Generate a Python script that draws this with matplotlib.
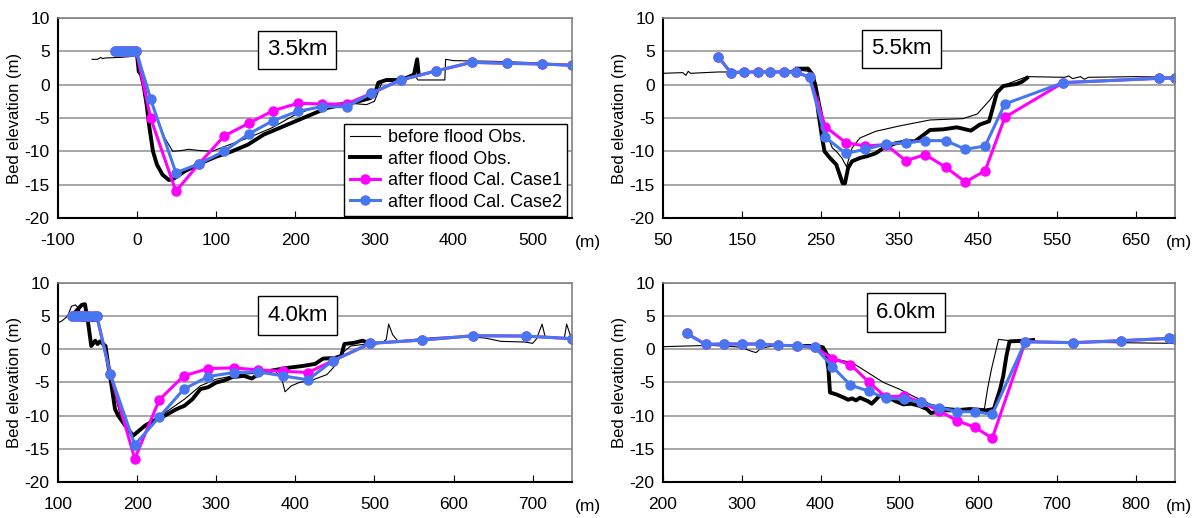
import matplotlib
matplotlib.use("Agg")
import matplotlib.pyplot as plt

plt.rcParams['font.family'] = ['Liberation Sans', 'DejaVu Sans']
plt.rcParams['axes.unicode_minus'] = False

# ---- 3.5km ----
x35_before = [-57, -50, -46, -44, -40, -20, 0, 2, 5, 10, 15, 25, 35, 45, 55, 65, 80, 95, 110, 140,
              170, 200, 230, 260, 290, 300, 305, 310, 330, 340, 352, 355, 389, 390, 400, 450, 500, 550]
y35_before = [3.8, 3.8, 4.1, 3.9, 4.0, 4.1, 4.3, 3.0, 2.0, 1.0, -1.0, -5.0, -8.0, -10.0, -9.9, -9.7, -9.9, -10.0, -9.3, -8.0,
              -6.5, -4.5, -3.2, -2.7, -3.0, -2.5, -1.0, 0.5, 0.6, 0.8, 1.2, 0.7, 0.7, 3.8, 3.6, 3.5, 3.3, 3.0]
x35_after = [0, 2, 5, 8, 12, 15, 20, 25, 32, 40, 45, 60, 80, 100, 120, 140, 160, 180, 200, 220, 240,
             260, 280, 295, 300, 305, 315, 330, 340, 350, 354, 356]
y35_after = [4.3, 2.0, 1.5, 0.0, -3.0, -6.0, -10.0, -12.0, -13.5, -14.3, -14.2, -13.0, -11.8, -10.8, -10.0, -9.0, -7.5, -6.5, -5.5, -4.5, -3.5,
             -3.0, -2.5, -2.0, -1.5, 0.3, 0.7, 0.7, 1.0, 1.5, 3.8, 1.5]
x35_cal = [-28, -25, -22, -19, -16, -13, -10, -7, -4, -1, 17, 49, 78, 110, 141, 172, 203, 234, 265,
           296, 333, 378, 423, 467, 512, 550]
y35_case1 = [5, 5, 5, 5, 5, 5, 5, 5, 5, 5, -5.0, -16.0, -11.9, -7.7, -5.8, -3.9, -2.8, -2.9, -2.9,
             -1.3, 0.7, 2.05, 3.35, 3.2, 3.1, 2.9]
y35_case2 = [5, 5, 5, 5, 5, 5, 5, 5, 5, 5, -2.2, -13.2, -11.9, -10.0, -7.4, -5.4, -4.0, -3.3, -3.3,
             -1.3, 0.7, 2.05, 3.35, 3.2, 3.1, 2.9]

# ---- 5.5km ----
x55_before = [50, 75, 79, 82, 85, 120, 160, 200, 220, 235, 240, 245, 250, 255, 260, 265, 270, 277, 283,
              290, 300, 320, 350, 389, 431, 449, 465, 474, 487, 512, 560, 565, 570, 580, 585, 590, 650, 700]
y55_before = [1.7, 1.8, 1.4, 2.0, 1.7, 1.9, 1.9, 2.0, 2.2, 2.0, 1.5, 0.0, -3.0, -6.0, -8.0, -9.5, -10.0, -11.0, -12.3,
              -9.5, -8.0, -7.0, -6.2, -5.3, -5.1, -4.4, -2.3, -0.8, 0.1, 1.2, 1.1, 1.3, 0.9, 1.2, 0.8, 1.1, 1.2, 1.1]
x55_after = [220, 234, 240, 243, 247, 252, 255, 262, 270, 278, 281, 285, 290, 300, 310, 320, 330, 345, 360,
             370, 389, 406, 423, 441, 452, 464, 474, 482, 499, 506, 512]
y55_after = [2.4, 2.4, 1.5, 0.0, -4.0, -8.0, -10.0, -11.0, -12.0, -14.8, -14.8, -12.5, -11.5, -11.0, -10.7, -10.3, -9.5, -8.8, -8.5,
             -8.5, -6.8, -6.7, -6.4, -6.9, -6.0, -5.5, -1.2, -0.2, 0.1, 0.45, 1.0]
x55_cal = [120, 136, 153, 170, 186, 203, 219, 236, 256, 282, 307, 333, 358, 383, 409, 434, 459, 484, 558, 680, 700]
y55_case1 = [4.2, 1.8, 1.9, 1.9, 1.9, 1.9, 1.9, 1.1, -6.3, -8.7, -9.2, -9.0, -11.4, -10.5, -12.4, -14.6, -12.9, -4.9, 0.3, 0.95, 1.0]
y55_case2 = [4.2, 1.8, 1.9, 1.9, 1.9, 1.9, 1.9, 1.1, -7.9, -10.3, -9.7, -8.9, -8.7, -8.4, -8.4, -9.7, -9.2, -2.9, 0.3, 0.95, 1.0]

# ---- 4.0km ----
x40_before = [100, 105, 112, 117, 122, 127, 130, 150, 160, 170, 180, 195, 200, 230, 260, 280, 300, 330, 360,
              375, 383, 387, 395, 405, 420, 440, 450, 460, 470, 490, 510, 515, 518, 523, 530, 550, 580, 620,
              640, 660, 690, 700, 705, 712, 716, 740, 743, 748, 750]
y40_before = [4.0, 4.3, 5.0, 6.5, 6.7, 6.0, 4.2, 4.2, 0.0, -6.0, -10.5, -13.0, -12.5, -10.0, -7.5, -5.5, -4.5, -3.8, -3.5,
              -3.3, -4.5, -6.4, -5.5, -5.0, -4.7, -3.8, -2.5, -0.5, 0.5, 0.8, 1.0, 1.5, 3.8, 2.2, 1.2, 1.5, 1.8, 1.9,
              1.7, 1.2, 1.1, 0.9, 1.6, 3.8, 1.8, 1.6, 3.8, 2.0, 1.6]
x40_after = [117, 130, 134, 138, 142, 147, 150, 153, 160, 163, 167, 172, 176, 182, 188, 195, 200, 210, 220, 235,
             250, 260, 270, 280, 290, 300, 310, 320, 335, 345, 355, 370, 390, 410, 425, 435, 450, 458, 462, 475,
             485, 495, 500]
y40_after = [5.0, 6.7, 6.8, 4.0, 0.5, 1.3, 0.8, 1.2, 0.5, -2.0, -5.0, -9.0, -10.0, -11.0, -12.0, -13.0, -12.5, -11.5, -10.8, -10.0,
             -9.0, -8.5, -7.5, -6.0, -5.7, -5.0, -4.7, -4.2, -4.0, -4.4, -3.6, -3.2, -2.8, -2.5, -2.2, -1.4, -1.3, -1.0, 0.8, 1.0,
             1.3, 0.9, 0.9]
x40_cal = [117, 121, 125, 129, 133, 137, 141, 145, 149, 166, 197, 228, 259, 290, 322, 353, 384, 416, 447, 495,
           560, 625, 691, 750]
y40_case1 = [5, 5, 5, 5, 5, 5, 5, 5, 5, -3.7, -16.5, -7.6, -4.0, -2.9, -2.8, -3.1, -3.3, -3.5, -1.75, 0.9,
             1.4, 2.05, 2.0, 1.6]
y40_case2 = [5, 5, 5, 5, 5, 5, 5, 5, 5, -3.7, -14.4, -10.2, -6.0, -4.1, -3.5, -3.4, -4.0, -4.6, -1.75, 0.9,
             1.4, 2.05, 2.0, 1.6]

# ---- 6.0km ----
x60_before = [200, 230, 260, 290, 300, 310, 318, 325, 340, 380, 395, 410, 420, 440, 460, 480, 500, 520, 540,
              560, 580, 600, 608, 612, 617, 622, 626, 640, 700, 780, 850]
y60_before = [0.4, 0.5, 0.6, 0.4, 0.3, -0.2, -0.5, 0.2, 0.5, 0.6, 0.4, -0.7, -1.5, -2.0, -3.5, -5.0, -6.0, -7.2, -8.3,
              -8.8, -9.0, -9.1, -9.0, -6.0, -3.0, -0.5, 1.5, 1.3, 1.1, 1.0, 0.9]
x60_after = [380, 395, 403, 407, 410, 412, 420, 430, 435, 440, 445, 450, 460, 465, 470, 475, 485, 495, 505,
             515, 525, 535, 540, 545, 555, 570, 590, 610, 620, 628, 632, 636, 640, 660, 670]
y60_after = [0.5, 0.5, 0.3, -0.5, -3.0, -6.5, -6.8, -7.3, -7.6, -7.4, -7.7, -7.3, -7.8, -8.2, -7.6, -7.0, -7.2, -7.8, -8.3,
             -8.2, -8.5, -9.0, -9.6, -9.5, -9.2, -9.2, -9.0, -9.2, -9.0, -6.0, -4.0, -1.0, 1.2, 1.3, 1.4]
x60_cal = [230, 254, 277, 300, 323, 346, 370, 393, 415, 438, 461, 483, 506, 528, 551, 573, 596, 618, 660,
           721, 782, 843, 850]
y60_case1 = [2.4, 0.75, 0.8, 0.8, 0.8, 0.6, 0.55, 0.3, -1.4, -2.3, -4.9, -7.2, -7.0, -8.0, -9.3, -10.75, -11.75, -13.4, 1.15,
             1.0, 1.3, 1.65, 1.6]
y60_case2 = [2.4, 0.75, 0.8, 0.8, 0.8, 0.6, 0.55, 0.3, -2.6, -5.4, -6.3, -7.4, -7.5, -8.0, -8.8, -9.4, -9.4, -9.8, 1.15,
             1.0, 1.3, 1.65, 1.6]

panels = [
    ("3.5km", (-100, 550), range(-100, 501, 100), x35_before, y35_before, x35_after, y35_after,
     x35_cal, y35_case1, y35_case2, (0.465, 0.84)),
    ("5.5km", (50, 700), range(50, 651, 100), x55_before, y55_before, x55_after, y55_after,
     x55_cal, y55_case1, y55_case2, (0.466, 0.845)),
    ("4.0km", (100, 750), range(100, 701, 100), x40_before, y40_before, x40_after, y40_after,
     x40_cal, y40_case1, y40_case2, (0.466, 0.836)),
    ("6.0km", (200, 850), range(200, 801, 100), x60_before, y60_before, x60_after, y60_after,
     x60_cal, y60_case1, y60_case2, (0.474, 0.852)),
]

fig = plt.figure(figsize=(11.97, 5.18), dpi=100)
positions = [
    [0.0485, 0.5792, 0.4295, 0.3861],
    [0.5539, 0.5792, 0.4277, 0.3861],
    [0.0485, 0.0695, 0.4295, 0.3842],
    [0.5539, 0.0695, 0.4277, 0.3842],
]
m_xpos = [1.03, 1.008, 1.03, 1.008]

blue = '#4677F0'
magenta = '#FF00FF'

for i, (name, xlim, xticks, xb, yb, xa, ya, xc, y1, y2, boxpos) in enumerate(panels):
    ax = fig.add_axes(positions[i])
    ax.plot(xb, yb, color='black', lw=0.8, label='before flood Obs.')
    ax.plot(xa, ya, color='black', lw=2.8, label='after flood Obs.')
    ax.plot(xc, y1, color=magenta, lw=2.2, marker='o', ms=6.5, label='after flood Cal. Case1')
    ax.plot(xc, y2, color=blue, lw=2.2, marker='o', ms=6.5, label='after flood Cal. Case2')

    ax.set_xlim(*xlim)
    ax.set_ylim(-20, 10)
    ax.set_xticks(list(xticks))
    ax.set_yticks(range(-20, 11, 5))
    ax.yaxis.grid(True, color='#a0a0a0', lw=1.3)
    ax.set_axisbelow(True)
    ax.tick_params(axis='x', direction='in', length=5, labelsize=12.5, pad=11)
    ax.tick_params(axis='y', length=0, labelsize=12.5, pad=6)
    for s in ['left', 'bottom']:
        ax.spines[s].set_color('black')
        ax.spines[s].set_linewidth(1.5)
    for s in ['top', 'right']:
        ax.spines[s].set_color('#808080')
        ax.spines[s].set_linewidth(1.2)
    ax.set_ylabel('Bed elevation (m)', fontsize=12, labelpad=2)
    ax.text(m_xpos[i], -0.125, '(m)', transform=ax.transAxes, fontsize=12.5,
            ha='center', va='center')
    ax.text(boxpos[0], boxpos[1], name, transform=ax.transAxes, fontsize=16,
            ha='center', va='center',
            bbox=dict(boxstyle='square,pad=0.4', facecolor='white', edgecolor='black', lw=1))

    if i == 0:
        leg = ax.legend(loc='lower right', bbox_to_anchor=(0.99, 0.01), fontsize=13,
                        frameon=True, fancybox=False, edgecolor='black', framealpha=1,
                        handlelength=1.7, handletextpad=0.4, labelspacing=0.25,
                        borderpad=0.3, borderaxespad=0)
        leg.get_frame().set_linewidth(1.0)

fig.savefig('out.png', dpi=100)
